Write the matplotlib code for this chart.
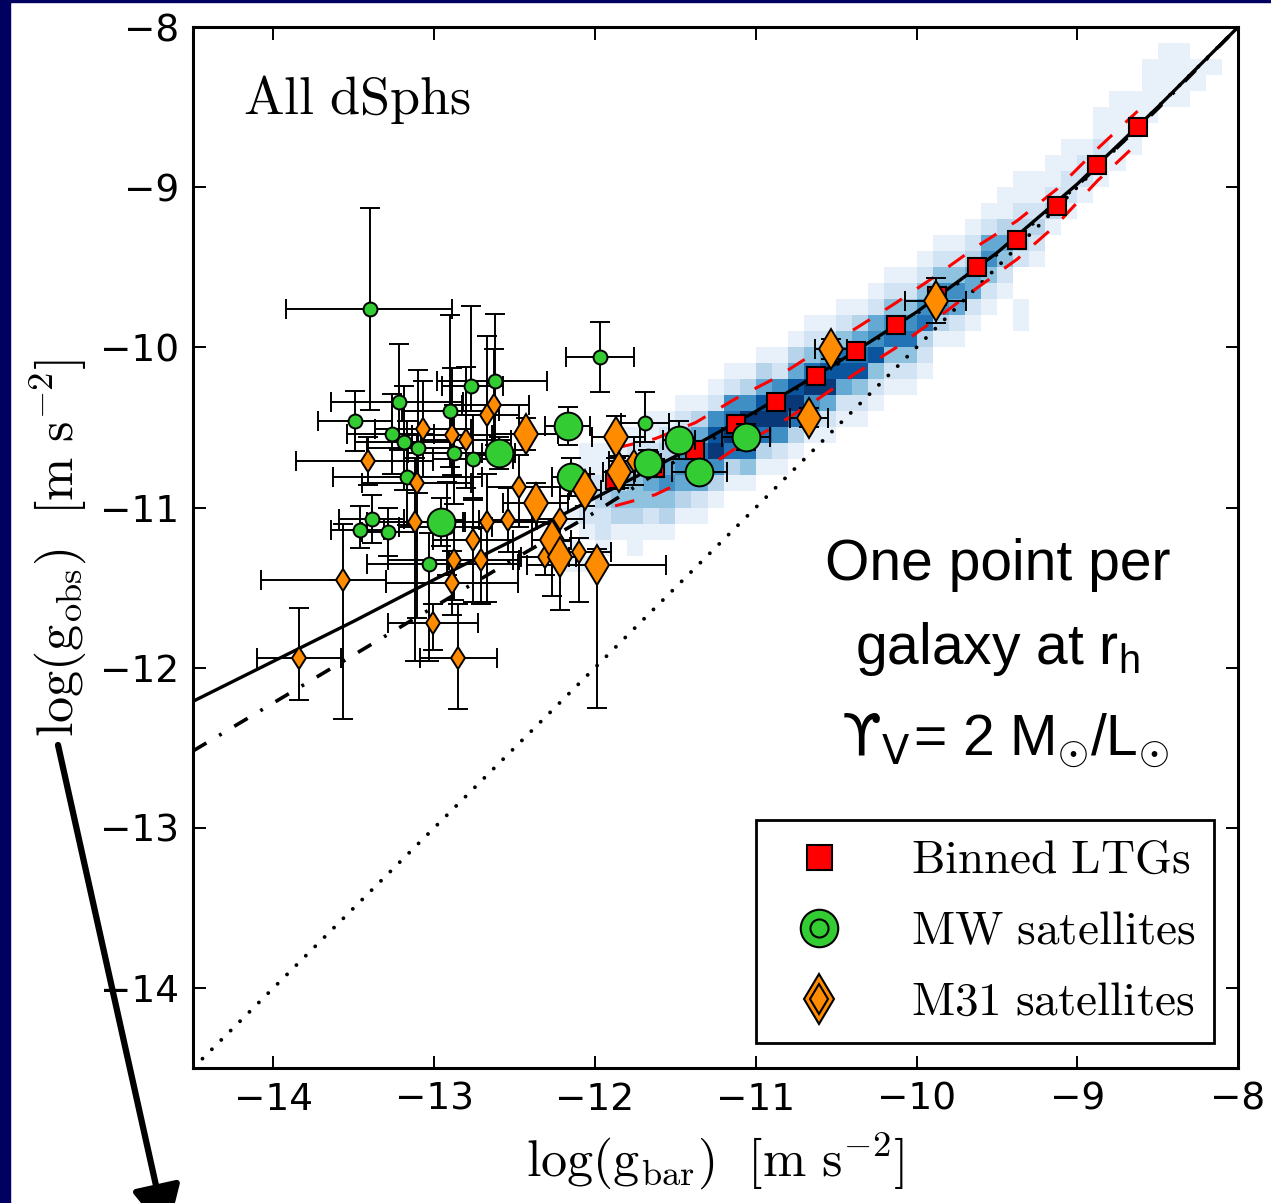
import numpy as np
import matplotlib.pyplot as plt
from matplotlib.lines import Line2D
from matplotlib.patches import Rectangle

plt.rcParams['mathtext.fontset'] = 'cm'
plt.rcParams['mathtext.rm'] = 'Liberation Sans'
plt.rcParams['mathtext.it'] = 'Liberation Sans:italic'
plt.rcParams['mathtext.bf'] = 'Liberation Sans:bold'
plt.rcParams['font.family'] = 'DejaVu Sans'

# binned late-type galaxies (squares) and their scatter (red dashed)
ltg_x = [-11.875, -11.625, -11.375, -11.125, -10.875, -10.625, -10.375,
         -10.125, -9.875, -9.625, -9.375, -9.125, -8.875, -8.625]
ltg_y = [-10.83, -10.755, -10.64, -10.48, -10.34, -10.18, -10.02,
         -9.86, -9.68, -9.50, -9.33, -9.12, -8.86, -8.625]
ltg_hi = [-10.63, -10.57, -10.47, -10.32, -10.19, -10.03, -9.88,
          -9.72, -9.55, -9.37, -9.21, -9.01, -8.76, -8.525]
ltg_lo = [-10.99, -10.92, -10.80, -10.63, -10.49, -10.33, -10.16,
          -10.00, -9.82, -9.63, -9.45, -9.23, -8.96, -8.725]

# fitted relations
fit_x = [-14.5, -14.0, -13.5, -13.0, -12.5, -12.0, -11.5, -11.0, -10.5,
         -10.0, -9.5, -9.0, -8.5, -8.0]
rar_y = [-12.21, -11.96, -11.71, -11.45, -11.20, -10.94, -10.68, -10.40,
         -10.10, -9.78, -9.41, -8.98, -8.50, -8.00]
dsph_y = [-12.52, -12.22, -11.92, -11.62, -11.32, -11.03, -10.71, -10.41,
          -10.11, -9.79, -9.42, -8.99, -8.51, -8.00]
one_x = [-14.5, -8.0]
one_y = [-14.5, -8.0]

# MW satellites, small symbols
mw_x = [-13.40, -11.97, -12.77, -12.62, -13.22, -13.49, -13.26, -13.19, -13.10, -12.90,
        -12.88, -12.76, -13.17, -13.39, -13.46, -13.29, -12.92, -13.03, -11.69]
mw_y = [-9.76, -10.06, -10.24, -10.21, -10.34, -10.46, -10.54, -10.59, -10.63, -10.40,
        -10.66, -10.70, -10.81, -11.07, -11.14, -11.15, -11.12, -11.35, -10.47]
mw_xlo = [0.52, 0.21, 0.18, 0.36, 0.42, 0.23, 0.28, 0.30, 0.32, 0.30,
          0.28, 0.25, 0.46, 0.20, 0.18, 0.16, 0.30, 0.39, 0.15]
mw_xhi = [0.51, 0.21, 0.20, 0.32, 0.40, 0.23, 0.26, 0.30, 0.30, 0.30,
          0.30, 0.25, 0.47, 0.20, 0.15, 0.18, 0.28, 0.55, 0.15]
mw_ylo = [0.63, 0.22, 0.16, 0.40, 0.30, 0.19, 0.25, 0.30, 0.28, 0.35,
          0.32, 0.25, 0.30, 0.15, 0.11, 0.15, 0.30, 0.61, 0.12]
mw_yhi = [0.63, 0.22, 0.50, 0.42, 0.36, 0.19, 0.25, 0.35, 0.49, 0.60,
          0.30, 0.28, 0.35, 0.15, 0.15, 0.15, 0.28, 0.19, 0.19]

# MW satellites, large symbols
mwb_x = [-12.60, -12.17, -12.15, -12.96, -11.48, -11.67, -11.35, -11.06]
mwb_y = [-10.66, -10.49, -10.81, -11.09, -10.58, -10.72, -10.78, -10.56]
mwb_xe = [0.10, 0.14, 0.12, 0.15, 0.10, 0.08, 0.17, 0.15]
mwb_ye = [0.10, 0.12, 0.12, 0.15, 0.12, 0.08, 0.06, 0.08]

# M31 satellites, small symbols
m31_x = [-12.63, -12.67, -13.07, -12.89, -12.80, -13.41, -13.11, -13.12, -12.67, -12.47,
         -12.76, -12.54, -12.22, -12.88, -12.71, -12.31, -12.10, -12.89, -13.57, -13.84,
         -13.01, -12.85, -11.76]
m31_y = [-10.36, -10.42, -10.51, -10.55, -10.58, -10.71, -10.85, -11.09, -11.09, -10.87,
         -11.20, -11.08, -11.07, -11.33, -11.33, -11.31, -11.28, -11.47, -11.45, -11.94,
         -11.72, -11.94, -10.71]
m31_xlo = [0.20, 0.22, 0.30, 0.25, 0.28, 0.45, 0.34, 0.30, 0.28, 0.20,
           0.25, 0.18, 0.15, 0.41, 0.20, 0.15, 0.20, 0.41, 0.51, 0.26,
           0.28, 0.24, 0.15]
m31_xhi = [0.22, 0.20, 0.30, 0.25, 0.28, 0.40, 0.34, 0.30, 0.28, 0.20,
           0.25, 0.18, 0.15, 0.41, 0.20, 0.15, 0.20, 0.41, 0.27, 0.26,
           0.28, 0.24, 0.15]
m31_ylo = [0.30, 0.25, 0.30, 0.25, 0.30, 0.15, 0.84, 0.87, 0.50, 0.25,
           0.39, 0.20, 0.20, 0.25, 0.27, 0.11, 0.31, 0.20, 0.87, 0.26,
           0.17, 0.32, 0.15]
m31_yhi = [0.35, 0.49, 0.30, 0.42, 0.46, 0.15, 0.30, 0.40, 0.30, 0.20,
           0.26, 0.20, 0.20, 0.25, 0.20, 0.11, 0.09, 0.20, 0.35, 0.31,
           0.12, 0.34, 0.15]

# M31 satellites, large symbols
m31b_x = [-12.43, -11.87, -11.85, -12.06, -12.37, -12.27, -12.22, -11.99, -10.53, -10.67, -9.88]
m31b_y = [-10.54, -10.56, -10.78, -10.89, -10.97, -11.20, -11.31, -11.36, -10.01, -10.44, -9.71]
m31b_xlo = [0.20, 0.15, 0.10, 0.10, 0.20, 0.12, 0.10, 0.43, 0.10, 0.12, 0.19]
m31b_xhi = [0.20, 0.15, 0.10, 0.10, 0.20, 0.12, 0.10, 0.43, 0.10, 0.12, 0.19]
m31b_ylo = [0.10, 0.13, 0.10, 0.10, 0.12, 0.35, 0.33, 0.89, 0.06, 0.06, 0.14]
m31b_yhi = [0.10, 0.13, 0.10, 0.10, 0.12, 0.10, 0.10, 0.10, 0.06, 0.06, 0.14]

# 2D histogram of all LTG data points: 0.1 dex cells, columns from x=-12.2,
# each entry = (first row below y=-8.0, cell shades going down, 0..9)
heat_cols = [
    (28, "1010110"), (26, "11212101"), (26, "1123221"), (25, "1123431"),
    (25, "12344311"), (24, "11245421"), (24, "12356431"), (23, "12466531"),
    (23, "13578521"), (22, "12689631"), (21, "12679731"), (21, "13699741"),
    (20, "13589731"), (20, "12699621"), (19, "13589731"), (18, "12479631"),
    (18, "12589521"), (17, "12478521"), (17, "13578421"), (16, "12568421"),
    (15, "12467421"), (15, "12467421"), (14, "12467321"), (13, "1246631"),
    (13, "1246521"), (12, "1235521"), (11, "1256421"), (10, "1135421"),
    (9, "1123320011"), (9, "112321"), (8, "11231"), (7, "11221"),
    (6, "01221"), (5, "11211"), (4, "11111"), (3, "01111"),
    (2, "1111"), (1, "11110"), (1, "1111"), (1, "011"),
    (2, "1"), (2, "0"),
]

heat = np.zeros((37, len(heat_cols)))
for c, (row0, cells) in enumerate(heat_cols):
    for k, ch in enumerate(cells):
        if row0 + k < heat.shape[0]:
            heat[row0 + k, c] = int(ch)
xe = -12.2 + 0.1 * np.arange(len(heat_cols) + 1)
ye = -8.0 - 0.1 * np.arange(heat.shape[0] + 1)

fig = plt.figure(figsize=(12.71, 12.03), dpi=100)
ax = fig.add_axes([0.1519, 0.1122, 0.8222, 0.8653])

ax.pcolormesh(xe, ye, np.ma.masked_equal(heat, 0), cmap='Blues',
              vmin=0.3, vmax=9.3, zorder=0)

ax.plot(one_x, one_y, color='k', lw=2.8, ls=(0, (0.01, 3.4)),
        dash_capstyle='round', zorder=1)
ax.plot(fit_x, dsph_y, color='k', lw=2.6, ls=(0, (4.3, 4.1, 0.8, 4.1)), zorder=1)
ax.plot(fit_x, rar_y, color='k', lw=2.4, zorder=1.2)
ax.plot(ltg_x, ltg_hi, color='red', lw=2.2, ls=(0, (6.5, 6)), zorder=1.5)
ax.plot(ltg_x, ltg_lo, color='red', lw=2.2, ls=(0, (6.5, 6)), zorder=1.5)
ax.plot(ltg_x, ltg_y, ls='none', marker='s', ms=12.5, mfc='red', mec='k',
        mew=1.5, zorder=3)

green = '#33cc33'
orange = '#ff8c00'
eb = dict(ls='none', ecolor='k', elinewidth=1.4, capsize=7.5, capthick=1.4,
          mec='k', mew=1.4, zorder=4)
ax.errorbar(mw_x, mw_y, xerr=[mw_xlo, mw_xhi], yerr=[mw_ylo, mw_yhi],
            marker='o', ms=10, mfc=green, **eb)
ax.errorbar(m31_x, m31_y, xerr=[m31_xlo, m31_xhi], yerr=[m31_ylo, m31_yhi],
            marker='d', ms=11.5, mfc=orange, **eb)
ax.errorbar(mwb_x, mwb_y, xerr=mwb_xe, yerr=mwb_ye,
            marker='o', ms=20, mfc=green, **eb)
ax.errorbar(m31b_x, m31b_y, xerr=[m31b_xlo, m31b_xhi], yerr=[m31b_ylo, m31b_yhi],
            marker='d', ms=20.5, mfc=orange, **eb)

ax.set_xlim(-14.5, -8)
ax.set_ylim(-14.5, -8)
ax.set_xticks(range(-14, -7))
ax.set_yticks(range(-14, -7))
ax.tick_params(which='both', direction='in', top=True, right=True,
               length=9, width=1.4, labelsize=27, pad=10)
for s in ax.spines.values():
    s.set_linewidth(2.2)

ax.set_xlabel(r'$\log(\mathrm{g_{bar}})\ \ [\mathrm{m\ s^{-2}}]$', fontsize=37.5, labelpad=9)
ax.set_ylabel(r'$\log(\mathrm{g_{obs}})\ \ [\mathrm{m\ s^{-2}}]$', fontsize=37.5, labelpad=8)

ax.text(0.048, 0.93, r'$\mathrm{All\ dSphs}$', transform=ax.transAxes,
        fontsize=39, ha='left', va='center')

sans = ['Liberation Sans', 'DejaVu Sans']
ax.text(0.770, 0.483, 'One point per', transform=ax.transAxes, fontsize=41,
        ha='center', va='center', family=sans)
ax.text(0.770, 0.403, r'galaxy at r$_\mathrm{h}$', transform=ax.transAxes,
        fontsize=41, ha='center', va='center', family=sans, math_fontfamily='custom')
ax.text(0.686, 0.315, r'ϒ$_\mathrm{V}$', transform=ax.transAxes,
        fontsize=41, ha='right', va='center', family='DejaVu Sans',
        math_fontfamily='dejavusans')
ax.text(0.689, 0.315, r'= 2 $\mathrm{M}_{\odot}$/$\mathrm{L}_{\odot}$', transform=ax.transAxes,
        fontsize=41, ha='left', va='center', family=sans, math_fontfamily='custom')

h_sq = Line2D([], [], ls='none', marker='s', ms=18, mfc='red', mec='k', mew=1.5)
h_mw = (Line2D([], [], ls='none', marker='o', ms=27, mfc=green, mec='k', mew=1.5),
        Line2D([], [], ls='none', marker='o', ms=13, mfc=green, mec='k', mew=1.5))
h_m31 = (Line2D([], [], ls='none', marker='d', ms=25.5, mfc=orange, mec='k', mew=1.5),
         Line2D([], [], ls='none', marker='d', ms=15, mfc=orange, mec='k', mew=1.5))
leg = ax.legend([h_sq, h_mw, h_m31],
                [r'$\mathrm{Binned\ LTGs}$', r'$\mathrm{MW\ satellites}$',
                 r'$\mathrm{M31\ satellites}$'],
                loc='lower right', bbox_to_anchor=(0.977, 0.024), borderaxespad=0,
                fontsize=34, fancybox=False, edgecolor='k', framealpha=1,
                borderpad=0.38, handlelength=1.9, handletextpad=1.0, labelspacing=0.55)
leg.get_frame().set_linewidth(2)
leg.set_zorder(10)

# slide decorations: navy border and arrow from the y label
fig.add_artist(Rectangle((0, 0), 10 / 1271, 1, transform=fig.transFigure,
                         color='#000060', zorder=20))
fig.add_artist(Rectangle((0, 1 - 2 / 1203), 1, 2 / 1203, transform=fig.transFigure,
                         color='#000060', zorder=20))
ax.annotate('', xy=(167, -32), xycoords='figure pixels',
            xytext=(58, 458), textcoords='figure pixels', annotation_clip=False,
            arrowprops=dict(arrowstyle='-|>,head_length=0.6,head_width=0.3',
                            mutation_scale=50, lw=4.5, color='k',
                            shrinkA=0, shrinkB=0))

fig.savefig('out.png', dpi=100)
